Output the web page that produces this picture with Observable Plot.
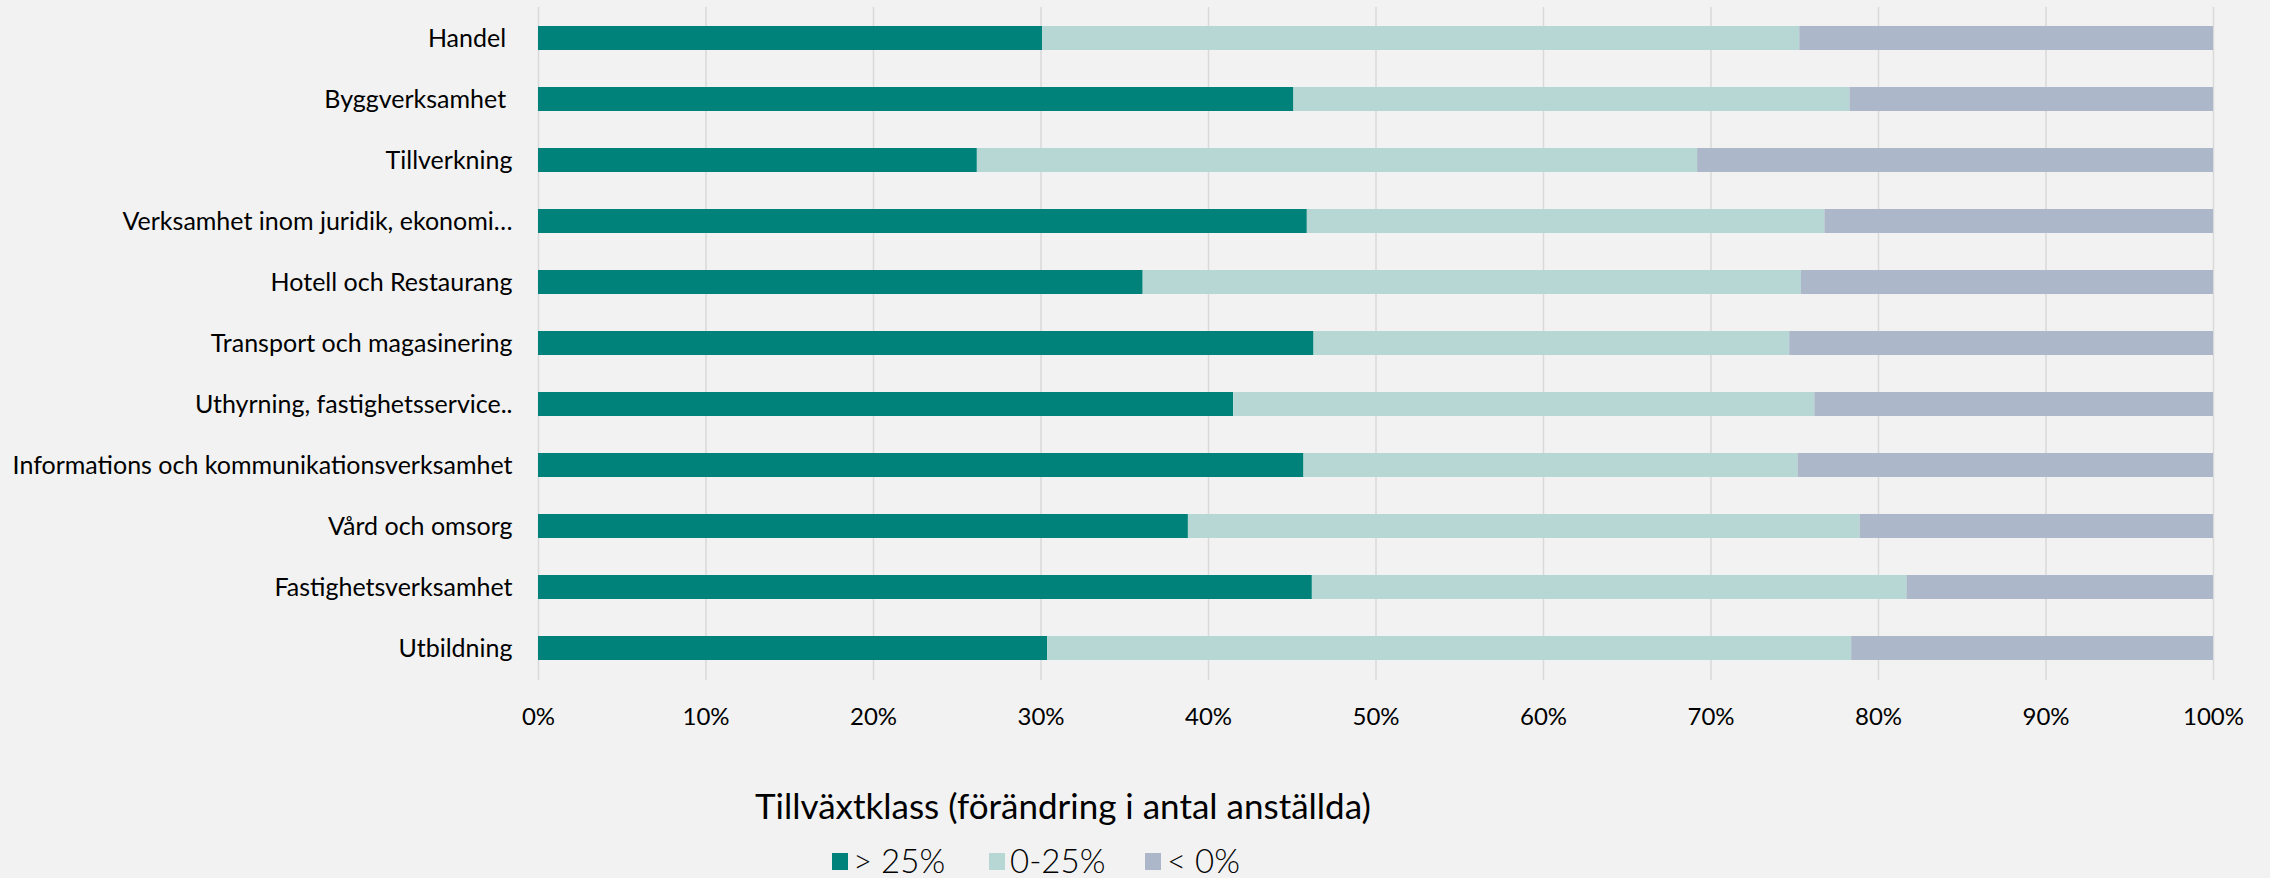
<!DOCTYPE html>
<html>
<head>
<meta charset="utf-8">
<script src="https://cdn.jsdelivr.net/npm/d3@7"></script>
<script src="https://cdn.jsdelivr.net/npm/@observablehq/plot@0.6"></script>
<style>
  html, body { margin: 0; padding: 0; background: #F2F2F2; }
  body { width: 2270px; height: 878px; position: relative; overflow: hidden; font-family: Lato, "Open Sans", sans-serif; color: #000; }
  #chart { position: absolute; left: 0; top: 0; }
  #legendTitle { position: absolute; left: 755px; top: 784px; font-size: 35px; line-height: 42px; white-space: nowrap; }
  .item { position: absolute; top: 844px; font-size: 33px; line-height: 33px; height: 33px; white-space: nowrap; font-weight: 300; }
  .sw { position: absolute; top: 853px; width: 16px; height: 17px; }
</style>
</head>
<body>
<div id="chart"></div>
<div id="legendTitle">Tillväxtklass (förändring i antal anställda)</div>
<div id="legend"></div>
<script>
const categories = [
  "Handel ",
  "Byggverksamhet ",
  "Tillverkning",
  "Verksamhet inom juridik, ekonomi…",
  "Hotell och Restaurang",
  "Transport och magasinering",
  "Uthyrning, fastighetsservice..",
  "Informations och kommunikationsverksamhet",
  "Vård och omsorg",
  "Fastighetsverksamhet",
  "Utbildning"
];
const classes = ["> 25%", "0-25%", "< 0%"];
const colors = ["#00827A", "#B7D7D5", "#ACB7CA"];
const over25 = [30.1, 45.1, 26.2, 45.9, 36.1, 46.3, 41.5, 45.7, 38.8, 46.2, 30.4];
const between0and25 = [45.2, 33.2, 43.0, 30.9, 39.3, 28.4, 34.7, 29.5, 40.1, 35.5, 48.0];
const under0 = [24.7, 21.7, 30.8, 23.2, 24.6, 25.3, 23.8, 24.8, 21.1, 18.3, 21.6];
const xTicks = [0, 10, 20, 30, 40, 50, 60, 70, 80, 90, 100];

const series = [over25, between0and25, under0];
const data = [];
categories.forEach((c, i) => {
  classes.forEach((k, j) => data.push({cat: c, cls: k, value: series[j][i]}));
});

const chart = Plot.plot({
  width: 2270,
  height: 745,
  marginLeft: 538,
  marginRight: 57,
  marginTop: 7,
  marginBottom: 65,
  style: {background: "#F2F2F2", fontFamily: "Lato, 'Open Sans', sans-serif", fontSize: "24px", color: "#000"},
  x: {domain: [0, 100], ticks: xTicks, tickFormat: d => d + "%", label: null, tickSize: 0, tickPadding: 27},
  y: {domain: categories, paddingInner: 0.6, paddingOuter: 0.3, label: null, tickSize: 0, tickPadding: 26,
      tickFormat: d => d.replace(/ $/, "\u00a0")},
  color: {domain: classes, range: colors},
  marks: [
    Plot.gridX(xTicks, {stroke: "#D9D9D9", strokeOpacity: 1, strokeWidth: 1.5}),
    Plot.barX(data, Plot.stackX({x: "value", y: "cat", fill: "cls", order: classes}))
  ]
});
chart.querySelectorAll("g[aria-label='y-axis tick label'] text").forEach(t => t.style.fontSize = "25px");
document.getElementById("chart").appendChild(chart);

const legend = document.getElementById("legend");
const swX = [832, 989, 1145];
const txX = [853, 1010, 1167];
classes.forEach((k, j) => {
  const s = document.createElement("div");
  s.className = "sw";
  s.style.left = swX[j] + "px";
  s.style.background = colors[j];
  legend.appendChild(s);
  const t = document.createElement("div");
  t.className = "item";
  t.style.left = txX[j] + "px";
  t.textContent = k;
  legend.appendChild(t);
});
</script>
</body>
</html>
